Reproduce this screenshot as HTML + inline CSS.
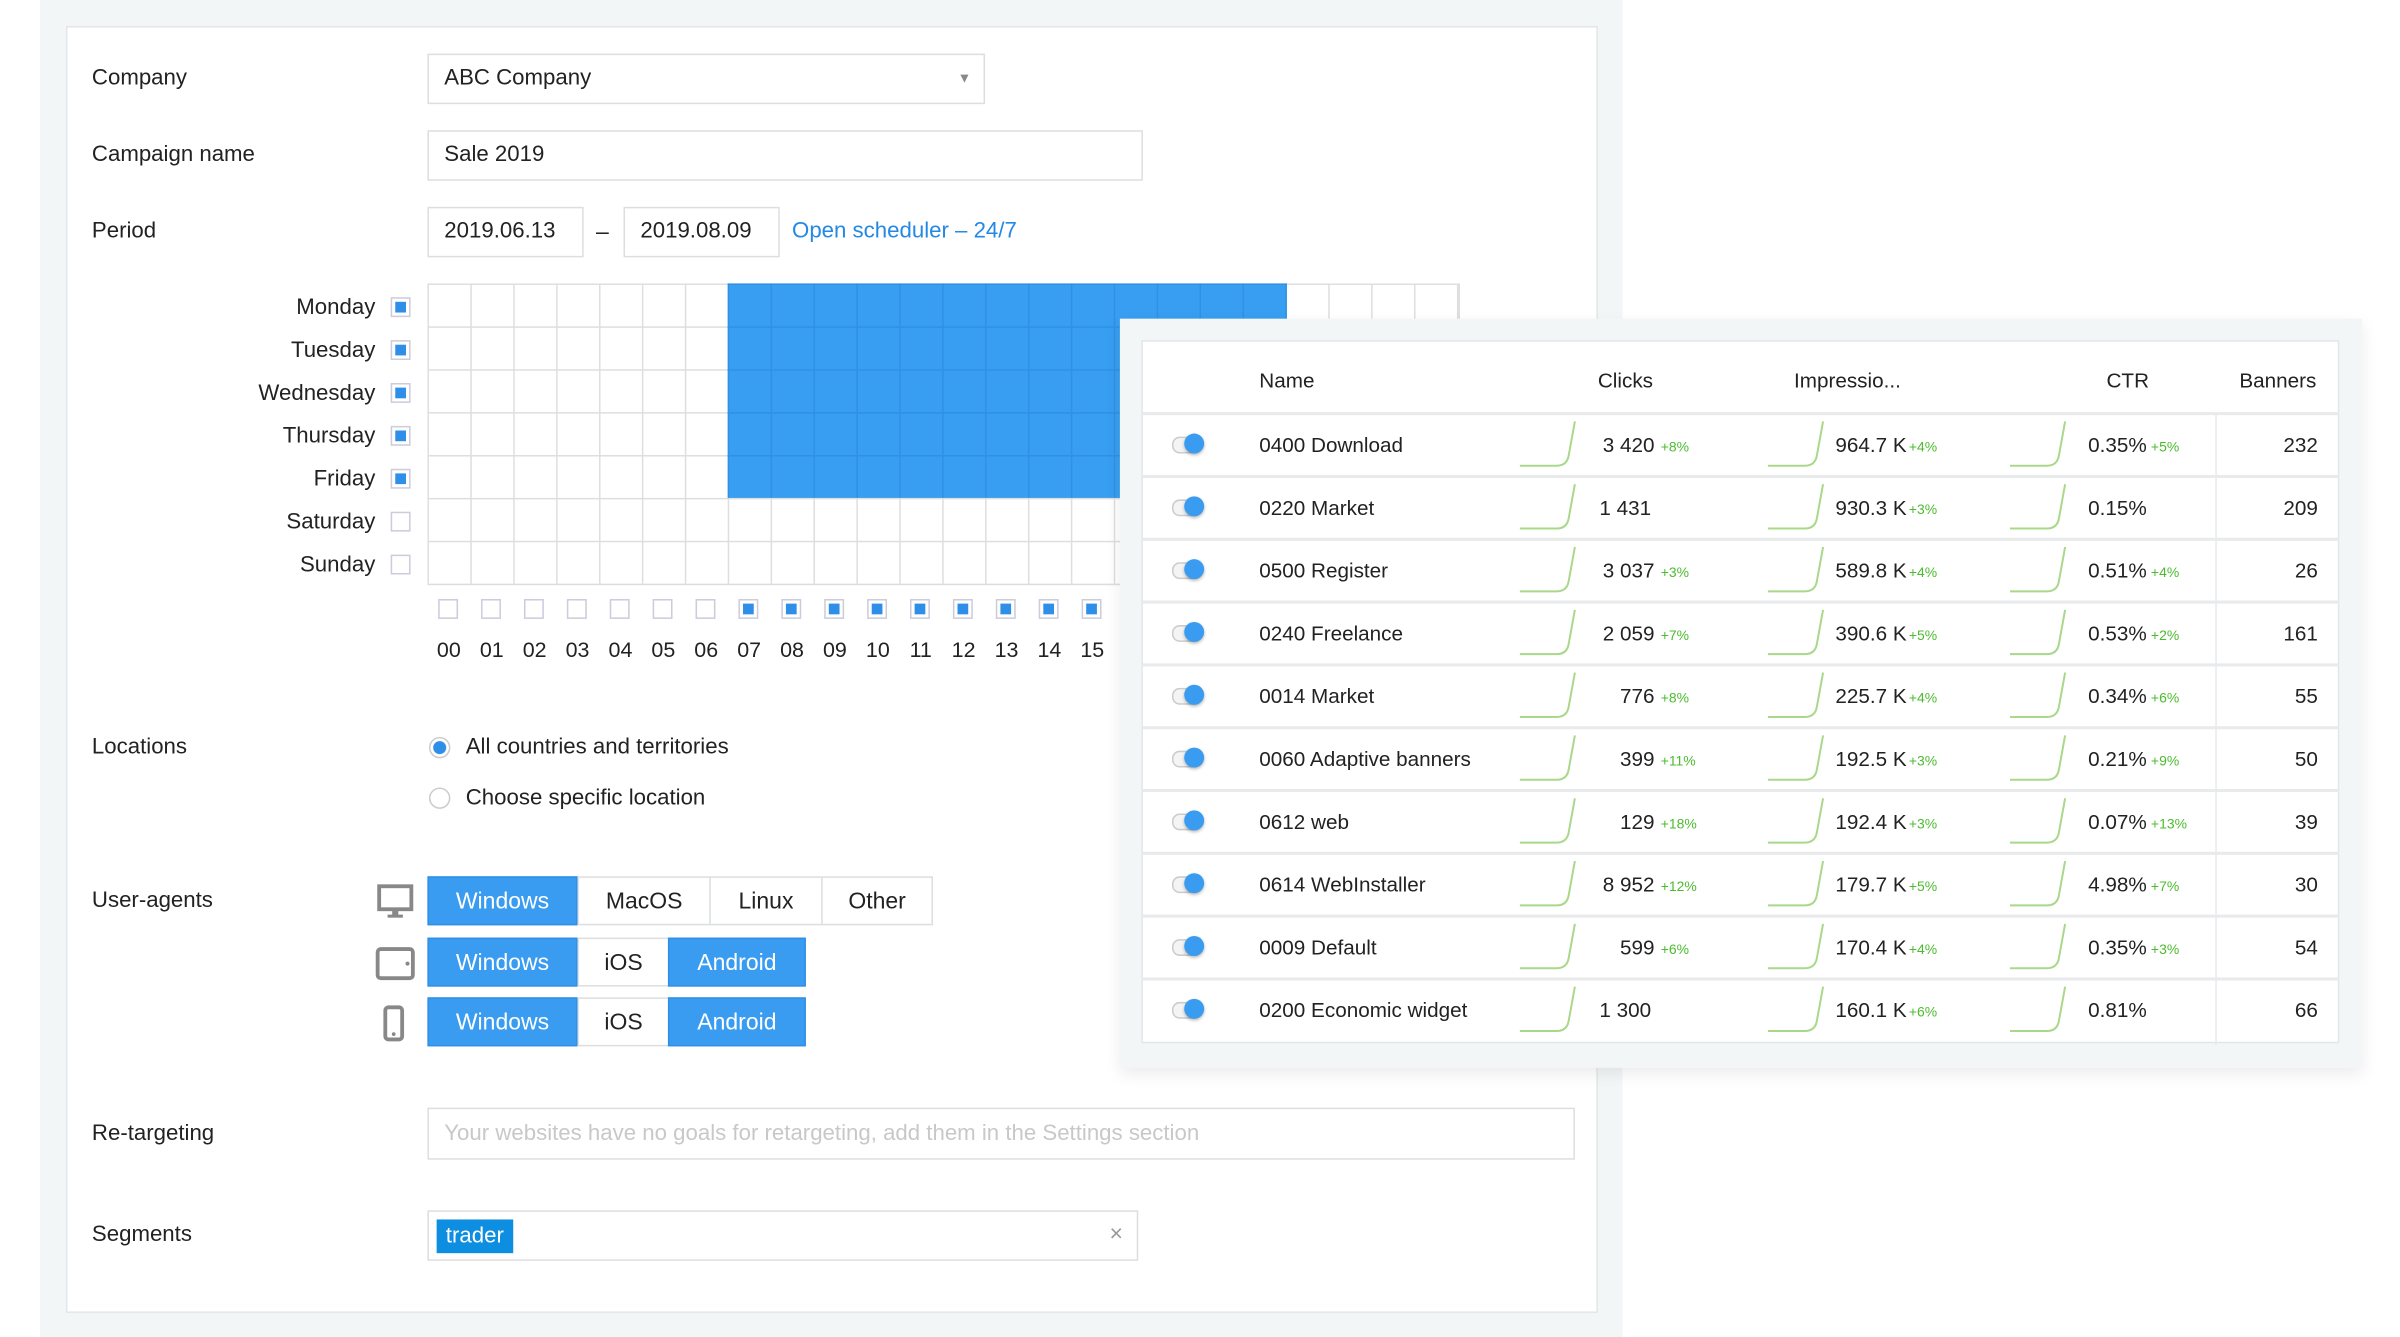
<!DOCTYPE html>
<html><head><meta charset="utf-8"><style>
html,body{margin:0;padding:0;background:#fff;width:2400px;height:1337px;overflow:hidden}
#w{position:absolute;left:0;top:0;width:1567px;height:873px;transform:scale(1.532);transform-origin:0 0;font-family:"Liberation Sans",sans-serif;font-size:14px;color:#222}
.a{position:absolute}
.lbl{position:absolute;left:60px;font-size:14.5px}
.inp{position:absolute;border:1px solid #dcdfe1;background:#fff;box-sizing:border-box;padding-left:10px;font-size:14.5px}
.cb{position:absolute;width:13px;height:13px;border:1px solid #ccd;box-sizing:border-box;background:#fff}
.cb.on::after{content:"";position:absolute;left:2px;top:2px;width:7px;height:7px;background:#2f8fe8}
.hl{position:absolute;top:416px;font-size:14px;width:28px;text-align:center}
.btn{position:absolute;height:32px;line-height:32px;text-align:center;border:1px solid #dcdfe1;box-sizing:border-box;font-size:15px;background:#fff}
.btn.b{background:#3a9cf0;color:#fff;border-color:#2f8fe8}
.row{position:absolute;left:0;width:781px;height:41px;border-top:2px solid #e8eaec}
.row span{position:absolute;top:12px;font-size:13.5px}
.row span.g{color:#4cbb2f;font-size:13px;top:13px;transform:scale(.7);transform-origin:0 50%}
.tg{position:absolute;left:19px;top:14px;width:18px;height:9px;border:1px solid #ccc;border-radius:5px;background:#f4f4f4}
.tg::after{content:"";position:absolute;left:7px;top:-3px;width:13px;height:13px;border-radius:50%;background:#3a9cf0;box-shadow:0 1px 2px rgba(0,0,0,.3)}
svg.sp{position:absolute;top:4px;width:44px;height:32px}
</style></head><body><div id="w">
<div class="a" style="left:26px;top:0;width:1033px;height:873px;background:#f3f6f7"></div>
<div class="a" style="left:43px;top:17px;width:998px;height:838px;background:#fff;border:1px solid #e3e6e8"></div>

<div class="lbl" style="top:43px">Company</div>
<div class="lbl" style="top:93px">Campaign name</div>
<div class="lbl" style="top:143px">Period</div>
<div class="lbl" style="top:480px">Locations</div>
<div class="lbl" style="top:580px">User-agents</div>
<div class="lbl" style="top:732px">Re-targeting</div>
<div class="lbl" style="top:798px">Segments</div>

<div class="inp" style="left:279px;top:35px;width:364px;height:33px;line-height:31px">ABC Company<span style="position:absolute;right:8px;top:0;color:#888;font-size:9px">▼</span></div>
<div class="inp" style="left:279px;top:85px;width:467px;height:33px;line-height:31px">Sale 2019</div>
<div class="inp" style="left:279px;top:135px;width:102px;height:33px;line-height:31px">2019.06.13</div>
<div class="a" style="left:389px;top:143px;font-size:15px">–</div>
<div class="inp" style="left:407px;top:135px;width:102px;height:33px;line-height:31px">2019.08.09</div>
<div class="a" style="left:517px;top:143px;font-size:14.5px;color:#2388e6">Open scheduler – 24/7</div>

<div class="a" style="left:279px;top:185px;width:673px;height:196px;border-right:1px solid #ddd;border-bottom:1px solid #ddd;background-image:linear-gradient(to right,#dedede 1px,transparent 1px),linear-gradient(to bottom,#dedede 1px,transparent 1px);background-size:28px 28px"></div>
<div class="a" style="left:475px;top:185px;width:365px;height:140px;background-color:#389ef1;background-image:linear-gradient(to right,#2f91e3 1px,transparent 1px),linear-gradient(to bottom,#2f91e3 1px,transparent 1px);background-size:28px 28px"></div>

<div class="a" style="top:193px;right:1322px;font-size:14.5px">Monday</div>
<div class="a" style="top:221px;right:1322px;font-size:14.5px">Tuesday</div>
<div class="a" style="top:249px;right:1322px;font-size:14.5px">Wednesday</div>
<div class="a" style="top:277px;right:1322px;font-size:14.5px">Thursday</div>
<div class="a" style="top:305px;right:1322px;font-size:14.5px">Friday</div>
<div class="a" style="top:333px;right:1322px;font-size:14.5px">Saturday</div>
<div class="a" style="top:361px;right:1322px;font-size:14.5px">Sunday</div>
<div class="cb on" style="left:255px;top:194px"></div><div class="cb on" style="left:255px;top:222px"></div><div class="cb on" style="left:255px;top:250px"></div><div class="cb on" style="left:255px;top:278px"></div><div class="cb on" style="left:255px;top:306px"></div><div class="cb" style="left:255px;top:334px"></div><div class="cb" style="left:255px;top:362px"></div>

<div class="cb" style="left:286px;top:391px"></div><div class="cb" style="left:314px;top:391px"></div><div class="cb" style="left:342px;top:391px"></div><div class="cb" style="left:370px;top:391px"></div><div class="cb" style="left:398px;top:391px"></div><div class="cb" style="left:426px;top:391px"></div><div class="cb" style="left:454px;top:391px"></div>
<div class="cb on" style="left:482px;top:391px"></div><div class="cb on" style="left:510px;top:391px"></div><div class="cb on" style="left:538px;top:391px"></div><div class="cb on" style="left:566px;top:391px"></div><div class="cb on" style="left:594px;top:391px"></div><div class="cb on" style="left:622px;top:391px"></div><div class="cb on" style="left:650px;top:391px"></div><div class="cb on" style="left:678px;top:391px"></div><div class="cb on" style="left:706px;top:391px"></div>
<div class="hl" style="left:279px">00</div><div class="hl" style="left:307px">01</div><div class="hl" style="left:335px">02</div><div class="hl" style="left:363px">03</div><div class="hl" style="left:391px">04</div><div class="hl" style="left:419px">05</div><div class="hl" style="left:447px">06</div><div class="hl" style="left:475px">07</div><div class="hl" style="left:503px">08</div><div class="hl" style="left:531px">09</div><div class="hl" style="left:559px">10</div><div class="hl" style="left:587px">11</div><div class="hl" style="left:615px">12</div><div class="hl" style="left:643px">13</div><div class="hl" style="left:671px">14</div><div class="hl" style="left:699px">15</div>

<div class="a" style="left:280px;top:481px;width:14px;height:14px;border-radius:50%;border:1px solid #ccc;box-sizing:border-box;background:radial-gradient(circle,#2f8fe8 4px,#fff 4.5px)"></div>
<div class="a" style="left:304px;top:480px;font-size:14.5px">All countries and territories</div>
<div class="a" style="left:280px;top:514px;width:14px;height:14px;border-radius:50%;border:1px solid #ccc;box-sizing:border-box;background:#fff"></div>
<div class="a" style="left:304px;top:513px;font-size:14.5px">Choose specific location</div>

<svg class="a" style="left:246px;top:577px" width="24" height="24"><rect x="1.5" y="1.5" width="21" height="15" fill="none" stroke="#888" stroke-width="2.5"/><rect x="10" y="17" width="4" height="4" fill="#888"/><rect x="7" y="20" width="10" height="2" fill="#888"/></svg>
<svg class="a" style="left:245px;top:618px" width="26" height="22"><rect x="1.5" y="1.5" width="23" height="19" rx="2" fill="none" stroke="#888" stroke-width="2.5"/><circle cx="21" cy="11" r="1.3" fill="#888"/></svg>
<svg class="a" style="left:250px;top:656px" width="14" height="24"><rect x="1.5" y="1.5" width="11" height="21" rx="2" fill="none" stroke="#888" stroke-width="2.5"/><circle cx="7" cy="19" r="1.2" fill="#888"/></svg>
<div class="btn b" style="left:279px;top:572px;width:98px">Windows</div><div class="btn" style="left:377px;top:572px;width:87px">MacOS</div><div class="btn" style="left:463px;top:572px;width:74px">Linux</div><div class="btn" style="left:536px;top:572px;width:73px">Other</div>
<div class="btn b" style="left:279px;top:612px;width:98px">Windows</div><div class="btn" style="left:377px;top:612px;width:60px">iOS</div><div class="btn b" style="left:436px;top:612px;width:90px">Android</div>
<div class="btn b" style="left:279px;top:651px;width:98px">Windows</div><div class="btn" style="left:377px;top:651px;width:60px">iOS</div><div class="btn b" style="left:436px;top:651px;width:90px">Android</div>

<div class="inp" style="left:279px;top:723px;width:749px;height:34px;line-height:32px;color:#c8c8c8">Your websites have no goals for retargeting, add them in the Settings section</div>
<div class="inp" style="left:279px;top:790px;width:464px;height:33px"><div class="a" style="left:5px;top:5px;height:22px;line-height:22px;padding:0 6px;background:#0d8ee0;color:#fff;font-size:14.5px">trader</div><div class="a" style="right:9px;top:6px;color:#999;font-size:15px">×</div></div>

<div class="a" style="left:731px;top:208px;width:811px;height:489px;background:#f3f6f7;box-shadow:0 4px 10px rgba(0,0,0,.08)"></div>
<div class="a" style="left:745px;top:222px;width:782px;height:459px;background:#fff;border:1px solid #e3e6e8;box-sizing:border-box">
<div class="a" style="left:700px;top:46px;width:1px;height:413px;background:#e8eaec"></div>
<span class="a" style="left:76px;top:18px;font-size:13.5px">Name</span>
<span class="a" style="left:297px;top:18px;font-size:13.5px">Clicks</span>
<span class="a" style="left:425px;top:18px;font-size:13.5px">Impressio...</span>
<span class="a" style="left:629px;top:18px;font-size:13.5px">CTR</span>
<span class="a" style="right:14px;top:18px;font-size:13.5px">Banners</span>

<div class="row" style="top:46px"><div class="tg"></div><span style="left:76px">0400 Download</span><svg class="sp" style="left:246px" viewBox="0 0 44 32"><path d="M0 29H24Q31 29 32 22L36 0" fill="none" stroke="#a9d88a" stroke-width="1.3"/></svg><span style="right:447px">3 420</span><span class="g" style="left:338px">+8%</span><svg class="sp" style="left:408px" viewBox="0 0 44 32"><path d="M0 29H24Q31 29 32 22L36 0" fill="none" stroke="#a9d88a" stroke-width="1.3"/></svg><span style="left:452px">964.7 K</span><span class="g" style="left:500px">+4%</span><svg class="sp" style="left:566px" viewBox="0 0 44 32"><path d="M0 29H24Q31 29 32 22L36 0" fill="none" stroke="#a9d88a" stroke-width="1.3"/></svg><span style="left:617px">0.35%</span><span class="g" style="left:658px">+5%</span><span style="right:14px">232</span></div>
<div class="row" style="top:87px"><div class="tg"></div><span style="left:76px">0220 Market</span><svg class="sp" style="left:246px" viewBox="0 0 44 32"><path d="M0 29H24Q31 29 32 22L36 0" fill="none" stroke="#a9d88a" stroke-width="1.3"/></svg><span style="left:298px">1 431</span><svg class="sp" style="left:408px" viewBox="0 0 44 32"><path d="M0 29H24Q31 29 32 22L36 0" fill="none" stroke="#a9d88a" stroke-width="1.3"/></svg><span style="left:452px">930.3 K</span><span class="g" style="left:500px">+3%</span><svg class="sp" style="left:566px" viewBox="0 0 44 32"><path d="M0 29H24Q31 29 32 22L36 0" fill="none" stroke="#a9d88a" stroke-width="1.3"/></svg><span style="left:617px">0.15%</span><span style="right:14px">209</span></div>
<div class="row" style="top:128px"><div class="tg"></div><span style="left:76px">0500 Register</span><svg class="sp" style="left:246px" viewBox="0 0 44 32"><path d="M0 29H24Q31 29 32 22L36 0" fill="none" stroke="#a9d88a" stroke-width="1.3"/></svg><span style="right:447px">3 037</span><span class="g" style="left:338px">+3%</span><svg class="sp" style="left:408px" viewBox="0 0 44 32"><path d="M0 29H24Q31 29 32 22L36 0" fill="none" stroke="#a9d88a" stroke-width="1.3"/></svg><span style="left:452px">589.8 K</span><span class="g" style="left:500px">+4%</span><svg class="sp" style="left:566px" viewBox="0 0 44 32"><path d="M0 29H24Q31 29 32 22L36 0" fill="none" stroke="#a9d88a" stroke-width="1.3"/></svg><span style="left:617px">0.51%</span><span class="g" style="left:658px">+4%</span><span style="right:14px">26</span></div>
<div class="row" style="top:169px"><div class="tg"></div><span style="left:76px">0240 Freelance</span><svg class="sp" style="left:246px" viewBox="0 0 44 32"><path d="M0 29H24Q31 29 32 22L36 0" fill="none" stroke="#a9d88a" stroke-width="1.3"/></svg><span style="right:447px">2 059</span><span class="g" style="left:338px">+7%</span><svg class="sp" style="left:408px" viewBox="0 0 44 32"><path d="M0 29H24Q31 29 32 22L36 0" fill="none" stroke="#a9d88a" stroke-width="1.3"/></svg><span style="left:452px">390.6 K</span><span class="g" style="left:500px">+5%</span><svg class="sp" style="left:566px" viewBox="0 0 44 32"><path d="M0 29H24Q31 29 32 22L36 0" fill="none" stroke="#a9d88a" stroke-width="1.3"/></svg><span style="left:617px">0.53%</span><span class="g" style="left:658px">+2%</span><span style="right:14px">161</span></div>
<div class="row" style="top:210px"><div class="tg"></div><span style="left:76px">0014 Market</span><svg class="sp" style="left:246px" viewBox="0 0 44 32"><path d="M0 29H24Q31 29 32 22L36 0" fill="none" stroke="#a9d88a" stroke-width="1.3"/></svg><span style="right:447px">776</span><span class="g" style="left:338px">+8%</span><svg class="sp" style="left:408px" viewBox="0 0 44 32"><path d="M0 29H24Q31 29 32 22L36 0" fill="none" stroke="#a9d88a" stroke-width="1.3"/></svg><span style="left:452px">225.7 K</span><span class="g" style="left:500px">+4%</span><svg class="sp" style="left:566px" viewBox="0 0 44 32"><path d="M0 29H24Q31 29 32 22L36 0" fill="none" stroke="#a9d88a" stroke-width="1.3"/></svg><span style="left:617px">0.34%</span><span class="g" style="left:658px">+6%</span><span style="right:14px">55</span></div>
<div class="row" style="top:251px"><div class="tg"></div><span style="left:76px">0060 Adaptive banners</span><svg class="sp" style="left:246px" viewBox="0 0 44 32"><path d="M0 29H24Q31 29 32 22L36 0" fill="none" stroke="#a9d88a" stroke-width="1.3"/></svg><span style="right:447px">399</span><span class="g" style="left:338px">+11%</span><svg class="sp" style="left:408px" viewBox="0 0 44 32"><path d="M0 29H24Q31 29 32 22L36 0" fill="none" stroke="#a9d88a" stroke-width="1.3"/></svg><span style="left:452px">192.5 K</span><span class="g" style="left:500px">+3%</span><svg class="sp" style="left:566px" viewBox="0 0 44 32"><path d="M0 29H24Q31 29 32 22L36 0" fill="none" stroke="#a9d88a" stroke-width="1.3"/></svg><span style="left:617px">0.21%</span><span class="g" style="left:658px">+9%</span><span style="right:14px">50</span></div>
<div class="row" style="top:292px"><div class="tg"></div><span style="left:76px">0612 web</span><svg class="sp" style="left:246px" viewBox="0 0 44 32"><path d="M0 29H24Q31 29 32 22L36 0" fill="none" stroke="#a9d88a" stroke-width="1.3"/></svg><span style="right:447px">129</span><span class="g" style="left:338px">+18%</span><svg class="sp" style="left:408px" viewBox="0 0 44 32"><path d="M0 29H24Q31 29 32 22L36 0" fill="none" stroke="#a9d88a" stroke-width="1.3"/></svg><span style="left:452px">192.4 K</span><span class="g" style="left:500px">+3%</span><svg class="sp" style="left:566px" viewBox="0 0 44 32"><path d="M0 29H24Q31 29 32 22L36 0" fill="none" stroke="#a9d88a" stroke-width="1.3"/></svg><span style="left:617px">0.07%</span><span class="g" style="left:658px">+13%</span><span style="right:14px">39</span></div>
<div class="row" style="top:333px"><div class="tg"></div><span style="left:76px">0614 WebInstaller</span><svg class="sp" style="left:246px" viewBox="0 0 44 32"><path d="M0 29H24Q31 29 32 22L36 0" fill="none" stroke="#a9d88a" stroke-width="1.3"/></svg><span style="right:447px">8 952</span><span class="g" style="left:338px">+12%</span><svg class="sp" style="left:408px" viewBox="0 0 44 32"><path d="M0 29H24Q31 29 32 22L36 0" fill="none" stroke="#a9d88a" stroke-width="1.3"/></svg><span style="left:452px">179.7 K</span><span class="g" style="left:500px">+5%</span><svg class="sp" style="left:566px" viewBox="0 0 44 32"><path d="M0 29H24Q31 29 32 22L36 0" fill="none" stroke="#a9d88a" stroke-width="1.3"/></svg><span style="left:617px">4.98%</span><span class="g" style="left:658px">+7%</span><span style="right:14px">30</span></div>
<div class="row" style="top:374px"><div class="tg"></div><span style="left:76px">0009 Default</span><svg class="sp" style="left:246px" viewBox="0 0 44 32"><path d="M0 29H24Q31 29 32 22L36 0" fill="none" stroke="#a9d88a" stroke-width="1.3"/></svg><span style="right:447px">599</span><span class="g" style="left:338px">+6%</span><svg class="sp" style="left:408px" viewBox="0 0 44 32"><path d="M0 29H24Q31 29 32 22L36 0" fill="none" stroke="#a9d88a" stroke-width="1.3"/></svg><span style="left:452px">170.4 K</span><span class="g" style="left:500px">+4%</span><svg class="sp" style="left:566px" viewBox="0 0 44 32"><path d="M0 29H24Q31 29 32 22L36 0" fill="none" stroke="#a9d88a" stroke-width="1.3"/></svg><span style="left:617px">0.35%</span><span class="g" style="left:658px">+3%</span><span style="right:14px">54</span></div>
<div class="row" style="top:415px"><div class="tg"></div><span style="left:76px">0200 Economic widget</span><svg class="sp" style="left:246px" viewBox="0 0 44 32"><path d="M0 29H24Q31 29 32 22L36 0" fill="none" stroke="#a9d88a" stroke-width="1.3"/></svg><span style="left:298px">1 300</span><svg class="sp" style="left:408px" viewBox="0 0 44 32"><path d="M0 29H24Q31 29 32 22L36 0" fill="none" stroke="#a9d88a" stroke-width="1.3"/></svg><span style="left:452px">160.1 K</span><span class="g" style="left:500px">+6%</span><svg class="sp" style="left:566px" viewBox="0 0 44 32"><path d="M0 29H24Q31 29 32 22L36 0" fill="none" stroke="#a9d88a" stroke-width="1.3"/></svg><span style="left:617px">0.81%</span><span style="right:14px">66</span></div>
</div>
</div></body></html>
